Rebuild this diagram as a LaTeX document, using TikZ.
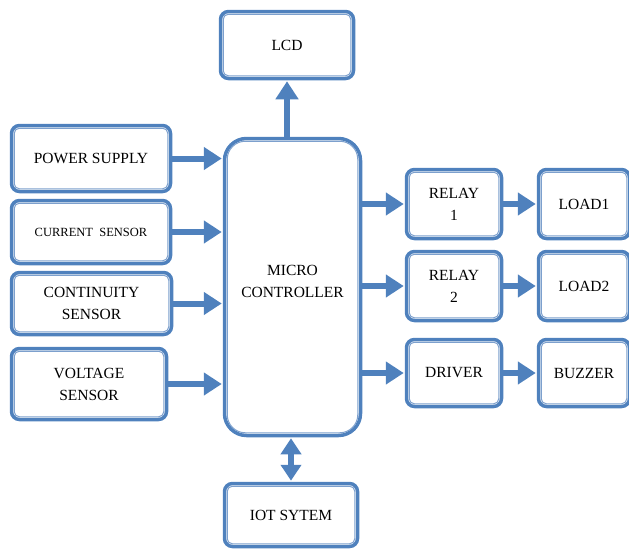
\documentclass[tikz,border=0pt]{standalone}
\usepackage{fontspec}
\setmainfont{Liberation Serif}
\usetikzlibrary{positioning,arrows.meta}
\definecolor{bblue}{RGB}{79,129,189}
\definecolor{bline}{RGB}{125,160,205}
\tikzset{
    blk/.style={draw=bblue, line width=3.5pt, rounded corners=8pt, fill=white, inner sep=2pt, align=center, font=\fontsize{15.5}{22}\selectfont},
    flow/.style={draw=bblue, line width=6pt, -{Triangle[width=22pt,length=18pt]}},
    both/.style={draw=bblue, line width=6pt, {Triangle[width=20pt,length=16pt]}-{Triangle[width=20pt,length=16pt]}},
    rim/.style={draw=bline, line width=1pt, rounded corners=5pt}
}
\begin{document}
\begin{tikzpicture}[x=1pt, y=-1pt]
        \useasboundingbox (0,0) rectangle (629,552);
        \node[blk, minimum width=133pt, minimum height=67pt] at (287,45) (lcd) {LCD};
        \node[blk, rounded corners=22pt, minimum width=136pt, minimum height=297pt, text depth=12pt] at (292.5,287) (mcu) {MICRO\\CONTROLLER};
        \node[blk, minimum width=133pt, minimum height=63pt] at (291,515) (iot) {IOT SYTEM};
        
        \node[blk, minimum width=159pt, minimum height=66pt] at (91,158.5) (ps) {POWER SUPPLY};
        \node[blk, minimum width=159pt, minimum height=63pt, font=\fontsize{12.5}{15}\selectfont] at (91,232) (cs) {CURRENT\ \ SENSOR};
        \node[blk, minimum width=160pt, minimum height=62pt] at (91.5,303.5) (cont) {CONTINUITY\\SENSOR};
        \node[blk, minimum width=155pt, minimum height=71pt] at (89,384) (volt) {VOLTAGE\\SENSOR};
        
        \node[blk, minimum width=95pt, minimum height=69pt] at (454,204) (rl1) {RELAY\\1};
        \node[blk, minimum width=95pt, minimum height=69pt] at (454,286) (rl2) {RELAY\\2};
        \node[blk, minimum width=95pt, minimum height=67pt] at (454,373) (drv) {DRIVER};
        \node[blk, minimum width=91pt, minimum height=69pt] at (584,204) (ld1) {LOAD1};
        \node[blk, minimum width=91pt, minimum height=69pt] at (584,286) (ld2) {LOAD2};
        \node[blk, minimum width=91pt, minimum height=67pt] at (584,373) (buz) {BUZZER};
        
        % thin inner line of every box
        \foreach \n in {lcd,iot,ps,cs,cont,volt,rl1,rl2,drv,ld1,ld2,buz} {
            \draw[rim] ([shift={(4.5pt,-4.5pt)}]\n.north west) rectangle ([shift={(-4.5pt,4.5pt)}]\n.south east);
        }
        \draw[rim, rounded corners=18pt] ([shift={(4.5pt,-4.5pt)}]mcu.north west) rectangle ([shift={(-4.5pt,4.5pt)}]mcu.south east);
        
        \foreach \n in {ps,cs,cont,volt} {
            \draw[flow, shorten >=1pt] (\n.east) -- (\n.east -| mcu.west);
        }
        \foreach \a/\b in {rl1/ld1,rl2/ld2,drv/buz} {
            \draw[flow, shorten >=1pt] (mcu.east |- \a.west) -- (\a.west);
            \draw[flow, shorten >=1pt] (\a.east) -- (\b.west);
        }
        \draw[flow, shorten >=1pt] (mcu.north -| lcd.south) -- (lcd.south);
        \draw[both, shorten >=1pt, shorten <=1pt] (mcu.south -| iot.north) -- (iot.north);
    \end{tikzpicture}
\end{document}
